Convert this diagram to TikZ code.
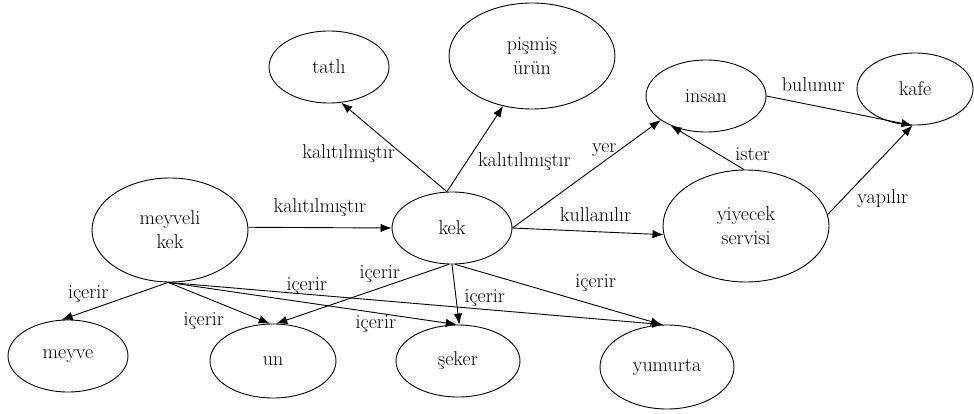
\documentclass[tikz,border=0pt]{standalone}
\usetikzlibrary{shapes.geometric, arrows.meta, positioning}
\tikzset{
    cmNode/.style={
        ellipse,
        draw,
        line width=0.9pt,
        inner sep=0pt,
        align=center,
        minimum width=120pt,
        minimum height=72pt,
        font=\fontsize{20}{24}\selectfont
    },
    % big variants
    cmBig/.style={cmNode, minimum width=166pt, minimum height=106pt},
    % Arrows
    cmArrow/.style={-{Latex[length=11pt, width=8.5pt]}, line width=0.9pt},
    cmLabel/.style={font=\fontsize{20}{24}\selectfont, inner sep=2pt}
}

\begin{document}
\begin{tikzpicture}[x=1pt, y=-1pt]
\useasboundingbox (0,0) rectangle (974,414);

\node[cmNode] (tatli) at (329,67) {tatlı};
\node[cmBig] (pismis) at (532,56) {pişmiş\\ürün};
\node[cmNode] (insan) at (706,96) {insan};
\node[cmNode, minimum width=116pt] (kafe) at (915,89) {kafe};
\node[cmBig, minimum width=156pt, minimum height=104pt] (meyveli) at (170,230) {meyveli\\kek};
\node[cmNode] (kek) at (452,228) {kek};
\node[cmBig, minimum height=112pt] (yiyecek) at (746,226) {yiyecek\\servisi};
\node[cmNode] (meyve) at (68,356) {meyve};
\node[cmNode, minimum width=126pt, minimum height=74pt] (un) at (273,361) {un};
\node[cmNode, minimum width=124pt] (seker) at (458,361) {şeker};
\node[cmNode, minimum width=134pt, minimum height=84pt] (yumurta) at (667,367) {yumurta};

% kalitim
\draw[cmArrow] (kek.98) -- node[cmLabel, pos=0.43, left=4pt] {kalıtılmıştır} (tatli.289);
\draw[cmArrow] (kek.98) -- node[cmLabel, pos=0.35, right=9pt] {kalıtılmıştır} (pismis.240);
\draw[cmArrow] (meyveli.2) -- node[cmLabel, above=9pt] {kalıtılmıştır} (kek.180);

% kek ve yiyecek servisi
\draw[cmArrow] (kek.east) -- node[cmLabel, pos=0.64, above, xshift=-3pt] {yer} (insan.208);
\draw[cmArrow] (kek.east) -- node[cmLabel, pos=0.55, above=8pt] {kullanılır} (yiyecek.186);
\draw[cmArrow] (yiyecek.92) -- node[cmLabel, pos=0.15, above right] {ister} (insan.220);
\draw[cmArrow] (insan.east) -- node[cmLabel, pos=0.32, above=11pt] {bulunur} (kafe.266);
\draw[cmArrow] (yiyecek.8) -- node[cmLabel, pos=0.18, right=12pt] {yapılır} (kafe.266);

% icerir
\draw[cmArrow] (meyveli.268) -- node[cmLabel, pos=0.75, above=5pt] {içerir} (meyve.100);
\draw[cmArrow] (meyveli.268) -- node[cmLabel, pos=0.35, below=13pt] {içerir} (un.95);
\draw[cmArrow] (meyveli.268) -- node[cmLabel, pos=0.72, below] {içerir} (seker.92);
\draw[cmArrow] (meyveli.268) -- node[cmLabel, pos=0.28, above, yshift=-3pt] {içerir} (yumurta.95);
\draw[cmArrow] (kek.265) -- node[cmLabel, pos=0.4, above=3pt] {içerir} (un.85);
\draw[cmArrow] (kek.270) -- node[cmLabel, pos=0.56, right=6pt] {içerir} (seker.88);
\draw[cmArrow] (kek.275) -- node[cmLabel, pos=0.68, above=11pt] {içerir} (yumurta.97);
\end{tikzpicture}
\end{document}
